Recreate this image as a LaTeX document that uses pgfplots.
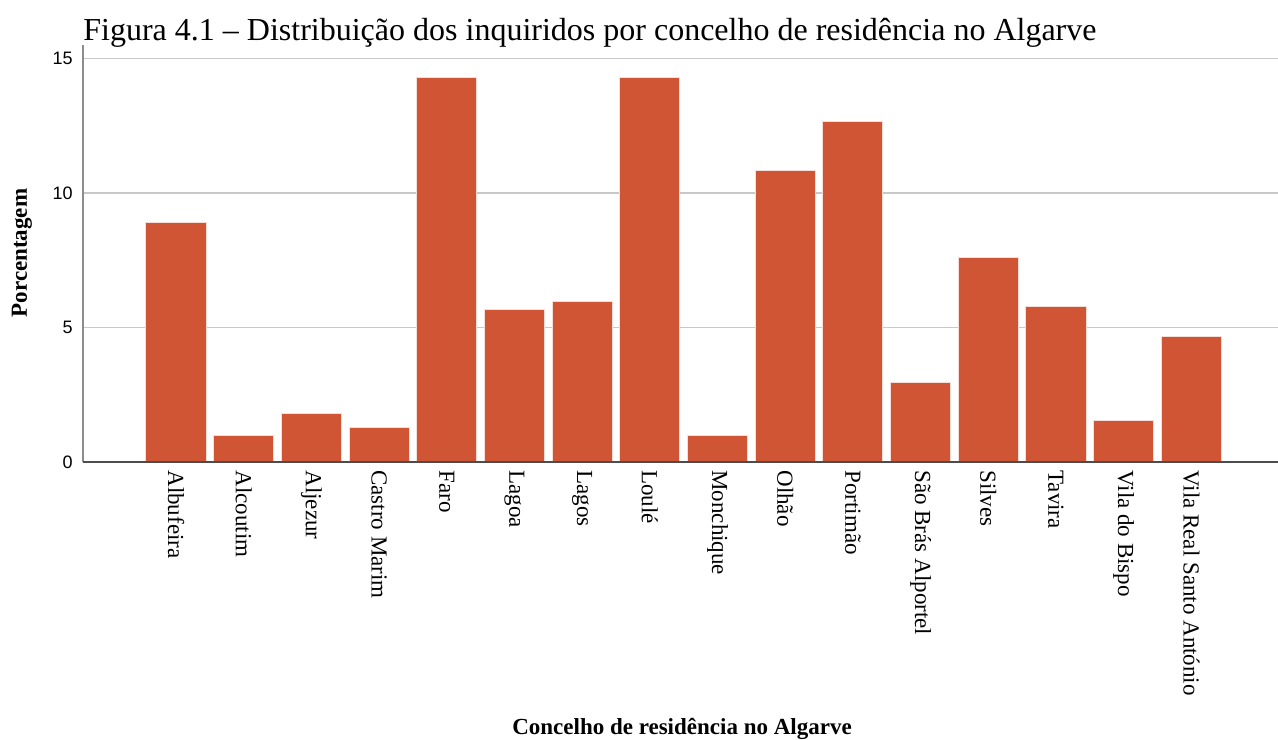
\documentclass[border=0pt]{standalone}
\usepackage{fontspec}
\setmainfont{Liberation Serif}
\newfontfamily\sansf{Liberation Sans}
\usepackage{pgfplots}
\pgfplotsset{compat=1.18}
\definecolor{barcol}{RGB}{208,85,52}
\definecolor{gridgray}{RGB}{200,200,200}
\begin{document}
\begin{tikzpicture}
\useasboundingbox (0,0) rectangle (639pt,369.5pt);
\begin{axis}[
  at={(41.5pt,138.5pt)}, anchor=south west,
  scale only axis, width=597.5pt, height=208.5pt,
  xmin=-1.374, xmax=16.28, ymin=0, ymax=15.5,
  axis x line*=bottom, axis y line*=left,
  x axis line style={color=black!70, line width=0.8pt},
  y axis line style={color=black!45, line width=0.8pt},
  ytick={0,5,10,15}, ymajorgrids,
  grid style={color=gridgray, line width=0.8pt},
  xtick={0,...,15},
  xticklabels={Albufeira,Alcoutim,Aljezur,Castro Marim,Faro,Lagoa,Lagos,Loulé,Monchique,Olhão,Portimão,São Brás Alportel,Silves,Tavira,Vila do Bispo,Vila Real Santo António},
  major tick length=0pt,
  xticklabel style={rotate=-90, anchor=west, inner sep=0pt, font=\fontsize{11.5}{13}\selectfont},
  xticklabel shift=4pt,
  yticklabel style={font=\sansf\fontsize{9}{10}\selectfont, inner sep=0pt},
  yticklabel shift=5pt,
  /pgf/number format/assume math mode=true,
  ybar, bar width=0.887,
]
\addplot[fill=barcol, draw=white!80!barcol, line width=0.5pt] coordinates {
(0,8.9) (1,1.0) (2,1.82) (3,1.3) (4,14.29) (5,5.66) (6,5.95) (7,14.29)
(8,1.0) (9,10.83) (10,12.65) (11,2.94) (12,7.59) (13,5.77) (14,1.53) (15,4.65)
};
\draw[black!70, line width=0.8pt] (axis cs:-1.374,0) -- (axis cs:16.28,0);
\end{axis}
\node[anchor=base west, inner sep=0pt, font=\fontsize{16}{19}\selectfont] at (41.5pt,349pt) {Figura 4.1 – Distribuição dos inquiridos por concelho de residência no Algarve};
\node[rotate=90, inner sep=0pt, font=\bfseries\fontsize{11.5}{13}\selectfont] at (11pt,243pt) {Porcentagem};
\node[anchor=base, inner sep=0pt, font=\bfseries\fontsize{11.5}{13}\selectfont] at (341pt,2.5pt) {Concelho de residência no Algarve};
\end{tikzpicture}
\end{document}
